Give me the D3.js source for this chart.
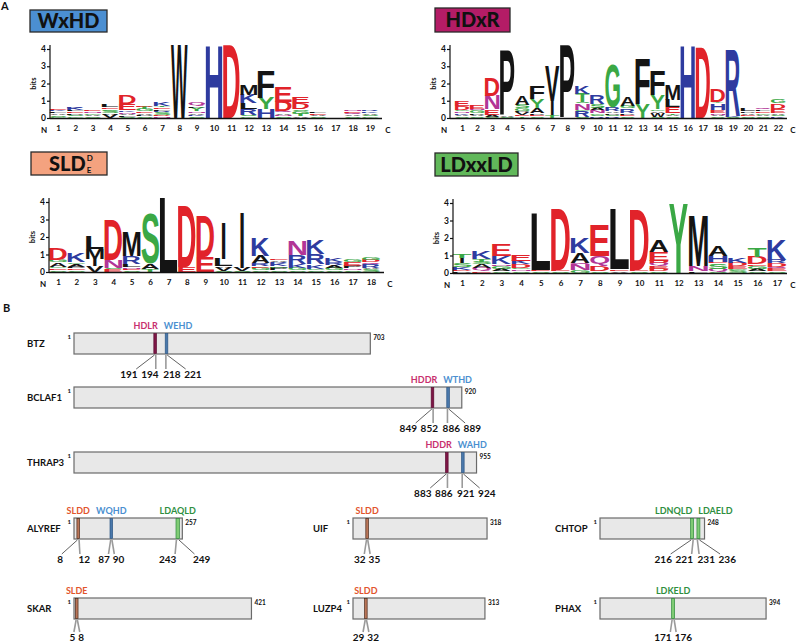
<!DOCTYPE html>
<html>
<head>
<meta charset="utf-8">
<script src="https://cdn.jsdelivr.net/npm/d3@7"></script>
<style>
  body { margin: 0; background: #fff; }
  svg { display: block; }
</style>
</head>
<body>
<svg id="fig" width="796" height="644"></svg>
<script>
// ---- data: sequence logos (each stack bottom -> top, [residue, bits]) ----
var wxhdStacks = [
  [['G',.08],['S',.1],['A',.1],['L',.1],['K',.1],['E',.1]],
  [['G',.1],['S',.1],['P',.08],['E',.1],['L',.1],['K',.12],['R',.1]],
  [['S',.1],['A',.1],['G',.1],['N',.08],['E',.07]],
  [['V',.2],['A',.1],['S',.12],['G',.1],['E',.1],['L',.12]],
  [['S',.08],['L',.08],['A',.1],['N',.1],['K',.1],['E',.35],['D',.5]],
  [['S',.1],['P',.1],['A',.1],['E',.1],['G',.12],['T',.12],['D',.08]],
  [['N',.1],['D',.1],['S',.12],['R',.1],['L',.1],['E',.1],['T',.1],['K',.2]],
  [['W',4.2]],
  [['S',.1],['K',.1],['A',.1],['N',.1],['Y',.2],['L',.1],['Q',.2]],
  [['H',4.2]],
  [['D',4.2]],
  [['G',.1],['S',.05],['R',.35],['L',.35],['K',.5],['M',.6]],
  [['H',.5],['Y',.65],['F',1.55]],
  [['S',.1],['N',.1],['A',.1],['Q',.1],['D',.55],['E',.85]],
  [['A',.1],['T',.15],['G',.15],['S',.1],['D',.35],['E',.35]],
  [['S',.1],['A',.1],['E',.1],['L',.05]],
  [],
  [['S',.1],['A',.1],['Q',.1],['E',.1],['N',.08]],
  [['G',.1],['S',.1],['A',.1],['K',.1],['R',.08]]
];
var hdxrStacks = [
  [['S',.1],['A',.1],['K',.1],['N',.08],['G',.08],['D',.25],['E',.3]],
  [['S',.1],['A',.1],['P',.1],['G',.15],['N',.1],['E',.25]],
  [['S',.08],['A',.12],['E',.3],['N',.8],['D',1.0]],
  [['S',.05],['A',.05],['P',3.8]],
  [['T',.1],['E',.1],['V',.12],['P',.1],['G',.15],['S',.2],['A',.5]],
  [['S',.1],['E',.1],['P',.1],['A',.3],['Y',.5],['F',.75]],
  [['T',.15],['I',.85],['V',2.0]],
  [['P',4.2]],
  [['S',.05],['R',.35],['G',.05],['N',.4],['S',.05],['T',.5],['K',.45]],
  [['R',.1],['S',.1],['G',.1],['N',.15],['A',.15],['S',.2],['R',.5]],
  [['R',.1],['S',.1],['P',.1],['A',.1],['R',.2],['G',2.5]],
  [['S',.1],['E',.1],['P',.1],['R',.25],['G',.15],['A',.5]],
  [['Y',.8],['F',2.65]],
  [['S',.05],['W',.25],['A',.1],['G',.1],['Y',.8],['F',1.45]],
  [['S',.1],['A',.1],['T',.1],['E',.35],['L',.4],['M',.9]],
  [['H',4.2]],
  [['D',4.1]],
  [['S',.1],['A',.1],['N',.1],['E',.15],['H',.4],['Y',.1],['D',.75]],
  [['S',.05],['K',.05],['R',3.85]],
  [['S',.1],['E',.1],['A',.1],['P',.1],['L',.15]],
  [['S',.1],['A',.1],['G',.1],['E',.1],['L',.1],['Q',.1]],
  [['K',.1],['S',.1],['A',.1],['E',.25],['D',.3],['G',.25]]
];
var sldStacks = [
  [['S',.1],['E',.1],['G',.1],['A',.25],['G',.15],['D',.65]],
  [['S',.1],['E',.1],['P',.1],['A',.15],['G',.1],['K',.5]],
  [['V',.35],['I',.4],['M',.55],['L',.75]],
  [['E',.15],['S',.1],['N',.45],['D',2.25]],
  [['S',.1],['E',.1],['N',.1],['L',.15],['R',.45],['M',1.4]],
  [['T',.15],['A',.3],['S',2.85]],
  [['L',4.25]],
  [['E',.3],['D',3.5]],
  [['E',.85],['D',2.3]],
  [['S',.05],['V',.2],['A',.1],['L',.4],['I',2.1]],
  [['S',.05],['V',.2],['I',3.2]],
  [['S',.1],['G',.15],['E',.1],['R',.15],['A',.4],['K',1.0]],
  [['S',.1],['P',.15],['G',.1],['K',.15],['R',.1],['A',.1],['E',.1]],
  [['S',.1],['G',.15],['K',.2],['R',.5],['N',.8]],
  [['S',.1],['G',.1],['K',.25],['R',.6],['K',.8]],
  [['S',.1],['G',.15],['A',.15],['R',.15],['K',.2]],
  [['S',.1],['N',.1],['P',.15],['E',.2],['G',.15]],
  [['S',.15],['A',.1],['R',.2],['Q',.1],['D',.15],['G',.15]]
];
var ldxxldStacks = [
  [['P',.1],['D',.1],['K',.15],['S',.2],['I',.3],['T',.25]],
  [['E',.1],['Q',.2],['A',.2],['S',.15],['T',.15],['K',.4]],
  [['S',.1],['A',.15],['G',.15],['N',.1],['K',.45],['E',.65]],
  [['S',.1],['N',.1],['G',.1],['D',.2],['K',.2],['E',.35]],
  [['S',.1],['E',.1],['L',3.2]],
  [['S',.1],['E',.1],['D',3.5]],
  [['G',.15],['N',.35],['Q',.1],['A',.55],['K',.85]],
  [['S',.1],['D',.3],['Q',.55],['E',1.75]],
  [['V',.1],['E',.1],['S',.05],['L',3.4]],
  [['S',.1],['E',.1],['D',3.45]],
  [['S',.1],['D',.15],['E',.15],['Q',.15],['D',.15],['E',.5],['A',.65]],
  [['Y',3.95]],
  [['L',.1],['N',.3],['M',2.9]],
  [['S',.1],['Q',.15],['S',.3],['E',.1],['H',.35],['A',.6]],
  [['S',.15],['G',.1],['E',.15],['D',.2],['K',.3]],
  [['S',.1],['A',.15],['G',.15],['E',.1],['D',.4],['T',.5]],
  [['S',.1],['E',.15],['Q',.1],['D',.2],['R',.2],['K',1.15]]
];
var bitTicks = [0, 1, 2, 3, 4];

// ---- data: proteins and motifs ----
var proteinNames = ['BTZ', 'BCLAF1', 'THRAP3', 'ALYREF', 'UIF', 'CHTOP', 'SKAR', 'LUZP4', 'PHAX'];
var proteinLengths = [703, 920, 955, 257, 318, 248, 421, 313, 394];
var motifs = [
  {protein: 'BTZ', seq: 'HDLR', type: 'HDxR', start: 191, end: 194},
  {protein: 'BTZ', seq: 'WEHD', type: 'WxHD', start: 218, end: 221},
  {protein: 'BCLAF1', seq: 'HDDR', type: 'HDxR', start: 849, end: 852},
  {protein: 'BCLAF1', seq: 'WTHD', type: 'WxHD', start: 886, end: 889},
  {protein: 'THRAP3', seq: 'HDDR', type: 'HDxR', start: 883, end: 886},
  {protein: 'THRAP3', seq: 'WAHD', type: 'WxHD', start: 921, end: 924},
  {protein: 'ALYREF', seq: 'SLDD', type: 'SLD', start: 8, end: 12},
  {protein: 'ALYREF', seq: 'WQHD', type: 'WxHD', start: 87, end: 90},
  {protein: 'ALYREF', seq: 'LDAQLD', type: 'LD', start: 243, end: 249},
  {protein: 'UIF', seq: 'SLDD', type: 'SLD', start: 32, end: 35},
  {protein: 'CHTOP', seq: 'LDNQLD', type: 'LD', start: 216, end: 221},
  {protein: 'CHTOP', seq: 'LDAELD', type: 'LD', start: 231, end: 236},
  {protein: 'SKAR', seq: 'SLDE', type: 'SLD', start: 5, end: 8},
  {protein: 'LUZP4', seq: 'SLDD', type: 'SLD', start: 29, end: 32},
  {protein: 'PHAX', seq: 'LDKELD', type: 'LD', start: 171, end: 176}
];

// ---- layout ----
var protRow = [0, 1, 2, 3, 3, 3, 4, 4, 4];
var protCol = [0, 0, 0, 0, 1, 2, 0, 1, 2];
var rowTops = [333, 387, 452, 518, 598];
var colBarX = [74, 353, 600];
var colNameX = [27, 313, 555];
var barH = 21;
var numberFan = {'ALYREF:SLDD': [-18, 6], 'ALYREF:LDAQLD': [-10, 24]};

var typeStyle = {
  HDxR: {label: '#c8306e', fill: '#7e1646', stroke: '#5a0e31'},
  WxHD: {label: '#4a8fd0', fill: '#4a78ab', stroke: '#2d5683'},
  SLD:  {label: '#e2542d', fill: '#b97558', stroke: '#4b2a1c'},
  LD:   {label: '#2f8f3f', fill: '#7fcb74', stroke: '#2d8a39'}
};

var RED = '#e1232a', BLUE = '#2e3b9f', GREEN = '#3aa845', PURPLE = '#b23596', BLACK = '#141414';
function aaColor(a) {
  if ('DE'.indexOf(a) >= 0) return RED;
  if ('KRH'.indexOf(a) >= 0) return BLUE;
  if ('NQ'.indexOf(a) >= 0) return PURPLE;
  if ('GSTYC'.indexOf(a) >= 0) return GREEN;
  return BLACK;
}

var UI_FONT = "Lato, 'Open Sans', sans-serif";
var LOGO_FONT = "'Liberation Sans', Arial, sans-serif";

var svg = d3.select('#fig');
svg.append('rect').attr('width', 796).attr('height', 644).attr('fill', '#fff');

// glyph ink boxes, so each letter can be stretched to its cell
var ctx = document.createElement('canvas').getContext('2d');
ctx.font = 'bold 100px ' + LOGO_FONT;
var metrics = {};
function glyph(a) {
  if (!metrics[a]) {
    var m = ctx.measureText(a);
    metrics[a] = {l: m.actualBoundingBoxLeft, r: m.actualBoundingBoxRight,
                  asc: m.actualBoundingBoxAscent, desc: m.actualBoundingBoxDescent};
  }
  return metrics[a];
}

function drawLetter(g, a, x, yTop, w, h) {
  var m = glyph(a);
  var gw = m.l + m.r, gh = m.asc + m.desc;
  var ww = a === 'I' ? w * 0.2 : w;
  var xx = x + (w - ww) / 2;
  g.append('text')
    .text(a)
    .attr('transform', 'translate(' + xx + ',' + (yTop + h) + ') scale(' + (ww / gw) + ',' + (h / gh) + ') translate(' + m.l + ',' + (-m.desc) + ')')
    .style('font-family', LOGO_FONT)
    .style('font-weight', 'bold')
    .style('font-size', '100px')
    .attr('fill', aaColor(a));
}

function txt(g, s, x, y, size, anchor, color) {
  return g.append('text').text(s)
    .attr('x', x).attr('y', y)
    .attr('text-anchor', anchor || 'start')
    .attr('fill', color || '#111')
    .style('font-family', UI_FONT)
    .style('font-weight', 700)
    .style('font-size', size + 'px');
}

function drawLogo(cfg) {
  var g = svg.append('g');
  var n = cfg.stacks.length;
  var x = d3.scaleLinear().domain([1, n]).range([cfg.first, cfg.last]);
  var y = d3.scaleLinear().domain([0, 4]).range([cfg.y0, cfg.y4]);
  var colW = (cfg.last - cfg.first) / (n - 1) * 0.96;

  // stacks
  var letters = g.append('g');
  cfg.stacks.forEach(function(stack, i) {
    var cum = 0;
    stack.forEach(function(d) {
      var top = y(cum + d[1]), bot = y(cum);
      if (bot - top > 0.3) drawLetter(letters, d[0], x(i + 1) - colW / 2, top, colW, bot - top);
      cum += d[1];
    });
  });

  // y axis
  var ax = g.append('g')
    .attr('transform', 'translate(' + cfg.axisX + ',0)')
    .call(d3.axisLeft(y).tickValues(bitTicks).tickSize(3).tickSizeOuter(0).tickPadding(1).tickFormat(d3.format('d')));
  ax.select('.domain').attr('d', 'M0,' + (cfg.y0 + 1) + 'V' + (cfg.y4 - 4)).attr('stroke', '#111').attr('stroke-width', 1.2);
  ax.selectAll('.tick line').attr('stroke', '#111').attr('stroke-width', 1.2);
  ax.selectAll('.tick text').style('font-family', UI_FONT).style('font-weight', 700).style('font-size', '8.5px').attr('fill', '#111');
  txt(g, 'bits', 0, 0, 7.5, 'middle')
    .attr('transform', 'translate(' + (cfg.axisX - 14) + ',' + y(2) + ') rotate(-90)');

  // x baseline and positions
  g.append('line')
    .attr('x1', cfg.axisX).attr('x2', cfg.end)
    .attr('y1', cfg.y0 + 0.5).attr('y2', cfg.y0 + 0.5)
    .attr('stroke', '#111').attr('stroke-width', 1.3);
  var bx = g.append('g')
    .attr('transform', 'translate(0,' + (cfg.y0 + 4) + ')')
    .call(d3.axisBottom(x).tickValues(d3.range(1, n + 1)).tickSize(0).tickFormat(d3.format('d')));
  bx.select('.domain').remove();
  bx.selectAll('.tick text').style('font-family', UI_FONT).style('font-weight', 700).style('font-size', '8px').attr('fill', '#111');
  txt(g, 'N', cfg.axisX - 6, cfg.y0 + 15, 8, 'middle');
  txt(g, 'C', cfg.end + 6, cfg.y0 + 15, 8, 'middle');

  // title box
  g.append('rect')
    .attr('x', cfg.box[0]).attr('y', cfg.box[1]).attr('width', cfg.box[2]).attr('height', cfg.box[3])
    .attr('fill', cfg.color).attr('stroke', '#2a2a2a').attr('stroke-width', 1.3);
  var tx = cfg.sup ? cfg.box[0] + 18 : cfg.box[0] + cfg.box[2] / 2;
  var t = txt(g, cfg.title, tx, cfg.box[1] + cfg.box[3] / 2 + 7, 20, cfg.sup ? 'start' : 'middle')
    .style('font-weight', 900);
  if (cfg.sup) {
    var tw = t.node().getComputedTextLength();
    txt(g, cfg.sup[0], tx + tw + 1, cfg.box[1] + 9, 8, 'start');
    txt(g, cfg.sup[1], tx + tw + 1, cfg.box[1] + cfg.box[3] - 2, 8, 'start');
  }
}

// ---- panel A ----
txt(svg, 'A', 1, 10, 11);
drawLogo({stacks: wxhdStacks, axisX: 50, first: 58, last: 370, end: 382, y0: 118, y4: 49,
  title: 'WxHD', color: '#4b8fd2', box: [30, 10, 77, 22]});
drawLogo({stacks: hdxrStacks, axisX: 450, first: 462, last: 778, end: 787, y0: 118, y4: 49,
  title: 'HDxR', color: '#b41c66', box: [435, 8, 75, 24]});
drawLogo({stacks: sldStacks, axisX: 49, first: 58, last: 371, end: 384, y0: 272, y4: 202,
  title: 'SLD', sup: ['D', 'E'], color: '#f4a27f', box: [31, 152, 76, 23]});
drawLogo({stacks: ldxxldStacks, axisX: 453, first: 462, last: 777, end: 787, y0: 273, y4: 203,
  title: 'LDxxLD', color: '#61b85a', box: [435, 153, 83, 23]});

// ---- panel B ----
txt(svg, 'B', 3, 312, 11);
var prot = d3.scaleLinear().domain([0, 1000]).range([0, 421.5]);
var gB = svg.append('g');

proteinNames.forEach(function(name, i) {
  var bx = colBarX[protCol[i]], top = rowTops[protRow[i]];
  var len = proteinLengths[i];
  txt(gB, name, colNameX[protCol[i]], top + barH / 2 + 3.5, 9.5);
  txt(gB, '1', bx - 3, top + 6, 6, 'end');
  txt(gB, String(len), bx + prot(len) + 3, top + 7, 6.5);
  gB.append('rect')
    .attr('x', bx).attr('y', top).attr('width', prot(len)).attr('height', barH)
    .attr('fill', '#e8e8e8').attr('stroke', '#6a6a6a').attr('stroke-width', 1.2);

  var ms = motifs.filter(function(m) { return m.protein === name; });
  var cx = ms.map(function(m) { return bx + prot((m.start + m.end) / 2); });
  var paired = ms.length === 2 && Math.abs(cx[1] - cx[0]) < 40;
  var mid = paired ? (cx[0] + cx[1]) / 2 : 0;

  ms.forEach(function(m, j) {
    var st = typeStyle[m.type];
    var w = Math.max(2.6, prot(m.end - m.start + 2));
    gB.append('rect')
      .attr('x', cx[j] - w / 2).attr('y', top + 0.6).attr('width', w).attr('height', barH - 1.2)
      .attr('fill', st.fill).attr('stroke', st.stroke).attr('stroke-width', 0.7);

    // motif sequence above the bar
    if (paired) {
      txt(gB, m.seq, j === 0 ? mid - 3 : mid + 3, top - 4, 9, j === 0 ? 'end' : 'start', st.label);
    } else {
      txt(gB, m.seq, cx[j], top - 4, 9, 'middle', st.label);
    }

    // residue numbers below with leader lines
    var xs = bx + prot(m.start), xe = bx + prot(m.end);
    var labelY = Math.min(top + barH + 24, 641);
    var fan = numberFan[name + ':' + m.seq];
    var centers = null;
    if (paired) centers = j === 0 ? [mid - 32, mid - 11] : [mid + 11, mid + 32];
    else if (fan) centers = [cx[j] + fan[0], cx[j] + fan[1]];
    [m.start, m.end].forEach(function(v, k) {
      var t;
      if (centers) t = txt(gB, String(v), centers[k], labelY, 10, 'middle');
      else t = txt(gB, String(v), k === 0 ? cx[j] - 1.5 : cx[j] + 1.5, labelY, 10, k === 0 ? 'end' : 'start');
      var bb = t.node().getBBox();
      var from = k === 0 ? xs : xe;
      var to = Math.max(bb.x + 1.5, Math.min(bb.x + bb.width - 1.5, from));
      var vertical = Math.abs(to - from) < 2.5;
      gB.append('line')
        .attr('x1', from).attr('y1', top + barH + 1)
        .attr('x2', to).attr('y2', labelY - 9)
        .attr('stroke', vertical ? '#9a9a9a' : '#3a3a3a')
        .attr('stroke-width', vertical ? 1.6 : 0.8);
    });
  });
});
</script>
</body>
</html>
